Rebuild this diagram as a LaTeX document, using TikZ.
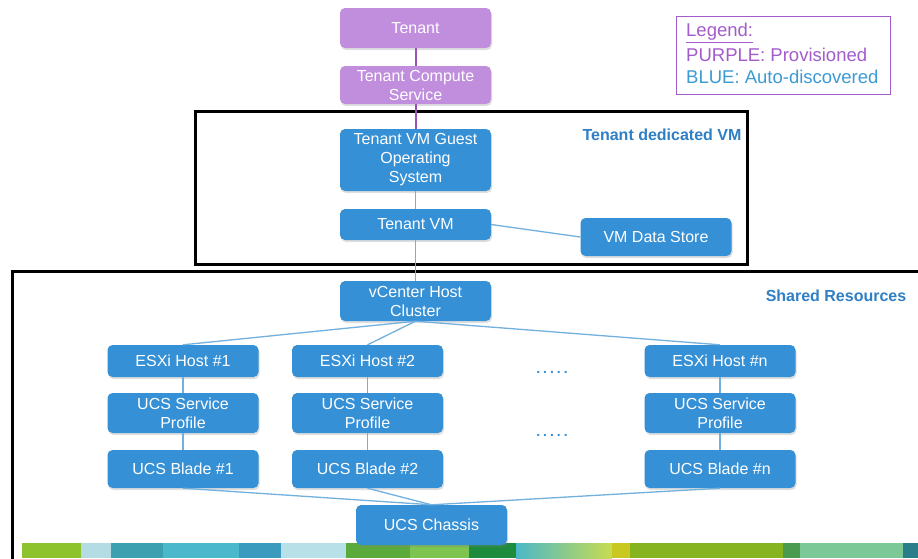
\documentclass[tikz,border=0pt]{standalone}
\usepackage{fontspec}
\setmainfont{Liberation Sans}
\usetikzlibrary{shadows}
\definecolor{pnode}{HTML}{C08EDD}
\definecolor{bnode}{HTML}{3590D6}
\definecolor{bline}{HTML}{72B0DE}
\definecolor{pline}{HTML}{9A52B8}
\definecolor{lblue}{HTML}{2F7FC4}
\definecolor{legp}{HTML}{A35CCB}
\definecolor{legb}{HTML}{3C9AD4}
\begin{document}
\begin{tikzpicture}[x=1pt,y=-1pt,
  box/.style={rounded corners=5pt, inner sep=0pt, minimum width=151pt, align=center, text=white,
    font=\fontsize{16}{19}\selectfont,
    drop shadow={shadow xshift=1pt,shadow yshift=-2pt,opacity=0.25}},
  pbox/.style={box, fill=pnode},
  bbox/.style={box, fill=bnode},
  pl/.style={pline, line width=2pt},
  bl/.style={bline, line width=1.3pt},
  frame/.style={black, line width=3pt},
  grouplabel/.style={text=lblue, font=\bfseries\fontsize{16}{18}\selectfont},
  dotlabel/.style={text=bnode, font=\bfseries\fontsize{14}{16}\selectfont},
  legtext/.style={anchor=west, inner sep=0pt, font=\fontsize{18.5}{21}\selectfont}
]
\useasboundingbox (0,0) rectangle (918,558);
\fill[white] (0,0) rectangle (918,558);

% colour bar
\fill[fill={rgb,255:red,141;green,196;blue,46}] (22,543) rectangle (81,558);
\fill[fill={rgb,255:red,180;green,220;blue,228}] (81,543) rectangle (111,558);
\fill[fill={rgb,255:red,60;green,160;blue,176}] (111,543) rectangle (163,558);
\fill[fill={rgb,255:red,75;green,184;blue,204}] (163,543) rectangle (239,558);
\fill[fill={rgb,255:red,58;green,155;blue,190}] (239,543) rectangle (281,558);
\fill[fill={rgb,255:red,184;green,224;blue,232}] (281,543) rectangle (346,558);
\fill[fill={rgb,255:red,91;green,170;blue,60}] (346,543) rectangle (410,558);
\fill[fill={rgb,255:red,125;green,196;blue,80}] (410,543) rectangle (469,558);
\fill[fill={rgb,255:red,30;green,140;blue,60}] (469,543) rectangle (516,558);
\shade[left color={rgb,255:red,75;green,184;blue,200}, right color={rgb,255:red,200;green,220;blue,80}] (516,543) rectangle (612,558);
\fill[fill={rgb,255:red,200;green,200;blue,32}] (612,543) rectangle (630,558);
\fill[fill={rgb,255:red,134;green,180;blue,32}] (630,543) rectangle (783,558);
\fill[fill={rgb,255:red,74;green,154;blue,80}] (783,543) rectangle (800,558);
\fill[fill={rgb,255:red,124;green,200;blue,150}] (800,543) rectangle (903,558);
\fill[fill={rgb,255:red,42;green,126;blue,138}] (903,543) rectangle (918,558);

% frames
\draw[frame] (195,111) rectangle (747,264);
\draw[frame] (925,271) -| (12,565);
\node[grouplabel] (lab1) at (662,135) {Tenant dedicated VM};
\node[grouplabel] (lab2) at (836,296) {Shared Resources};

% legend
\draw[legp, line width=0.8pt] (676,16) rectangle (890,94);
\node[legtext, text=legp] (lg1) at (686,33) {\underline{Legend:}};
\node[legtext, text=legp] (lg2) at (686,55) {PURPLE: Provisioned};
\node[legtext, text=legb] (lg3) at (686,77) {BLUE: Auto-discovered};

% nodes
\node[pbox, minimum height=40pt] (t) at (415.5,28) {Tenant};
\node[pbox, minimum height=38pt] (tc) at (415.5,85) {Tenant Compute\\Service};
\node[bbox, minimum height=62pt] (os) at (415.5,160) {Tenant VM Guest\\Operating\\System};
\node[bbox, minimum height=31pt] (vm) at (415.5,224.5) {Tenant VM};
\node[bbox, minimum height=38pt] (ds) at (656,237) {VM Data Store};
\node[bbox, minimum height=40pt] (vc) at (415.5,301) {vCenter Host\\Cluster};

\node[bbox, minimum height=32pt] (e1) at (183,361) {ESXi Host \#1};
\node[bbox, minimum height=32pt] (e2) at (367.5,361) {ESXi Host \#2};
\node[bbox, minimum height=32pt] (en) at (720,361) {ESXi Host \#n};
\node[bbox, minimum height=40pt] (p1) at (183,413) {UCS Service\\Profile};
\node[bbox, minimum height=40pt] (p2) at (367.5,413) {UCS Service\\Profile};
\node[bbox, minimum height=40pt] (pn) at (720,413) {UCS Service\\Profile};
\node[bbox, minimum height=38pt] (b1) at (183,469) {UCS Blade \#1};
\node[bbox, minimum height=38pt] (b2) at (367.5,469) {UCS Blade \#2};
\node[bbox, minimum height=38pt] (bn) at (720,469) {UCS Blade \#n};
\node[bbox, minimum height=40pt] (ch) at (431.5,525) {UCS Chassis};

\node[dotlabel] (d1) at (552,372) {.\hspace{3pt}.\hspace{3pt}.\hspace{3pt}.\hspace{3pt}.};
\node[dotlabel] (d2) at (552,435) {.\hspace{3pt}.\hspace{3pt}.\hspace{3pt}.\hspace{3pt}.};

% connectors
\draw[pl] (t) -- (tc);
\draw[pl] (tc) -- (os);
\draw[bl] (os) -- (vm);
\draw[bl] (vm) -- (vc);
\draw[bl] (vm.east) -- (ds.west);
\draw[bl] (vc.south) -- (e1.north);
\draw[bl] (vc.south) -- (e2.north);
\draw[bl] (vc.south) -- (en.north);
\draw[bl] (e1) -- (p1);
\draw[bl] (e2) -- (p2);
\draw[bl] (en) -- (pn);
\draw[bl] (p1) -- (b1);
\draw[bl] (p2) -- (b2);
\draw[bl] (pn) -- (bn);
\draw[bl] (b1.south) -- (ch.north);
\draw[bl] (b2.south) -- (ch.north);
\draw[bl] (bn.south) -- (ch.north);
\end{tikzpicture}
\end{document}
